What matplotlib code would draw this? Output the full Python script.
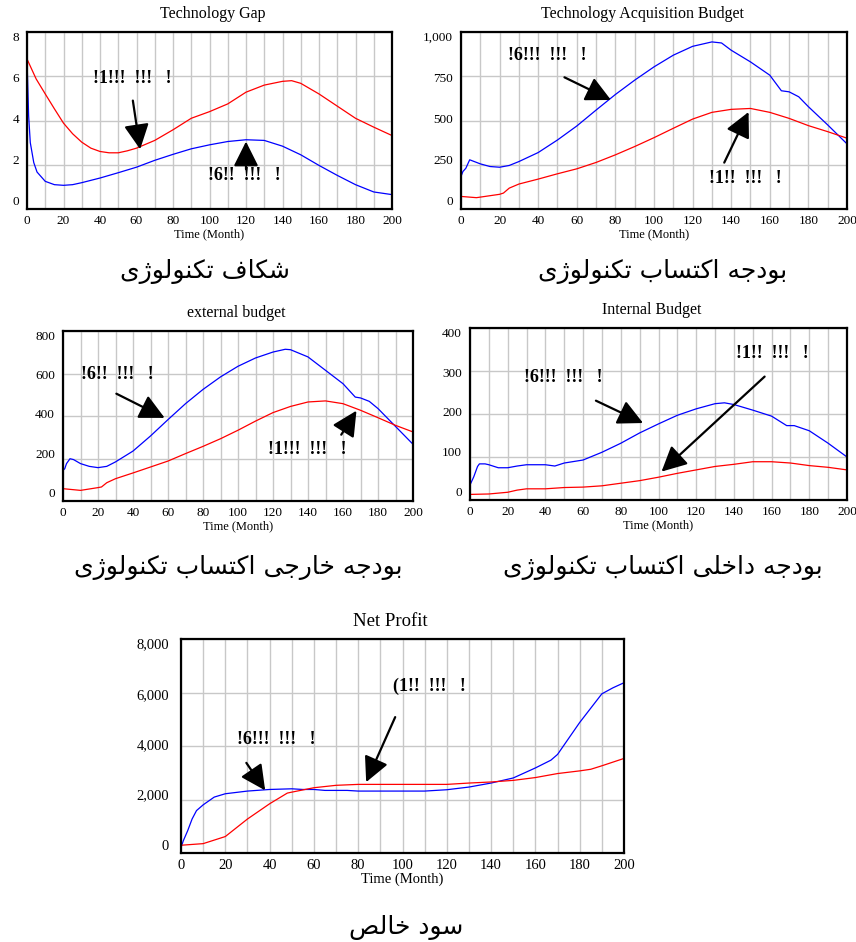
import matplotlib
matplotlib.use('Agg')
import matplotlib.pyplot as plt
from matplotlib.ticker import MultipleLocator
from matplotlib.transforms import ScaledTranslation

plt.rcParams['font.family'] = ['Liberation Serif', 'DejaVu Serif']

# ---- data (time in months) ----
gap_t_red = [0, 5, 10, 15, 20, 25, 30, 35, 40, 45, 50, 55, 60, 70, 80, 90, 100,
             110, 120, 130, 140, 145, 150, 160, 170, 180, 190, 200]
gap_red = [6.78, 5.88, 5.2, 4.53, 3.88, 3.4, 3.02, 2.75, 2.6, 2.54, 2.54, 2.63, 2.75,
           3.1, 3.58, 4.1, 4.4, 4.75, 5.28, 5.6, 5.77, 5.8, 5.68, 5.2, 4.65, 4.1, 3.7, 3.32]
gap_t_blue = [0, 0.9, 1.8, 3.7, 5.5, 10, 15, 20, 25, 30, 40, 50, 60, 70, 80, 90, 100,
              110, 120, 130, 140, 150, 160, 170, 180, 190, 200]
gap_blue = [6.78, 4.2, 3.0, 2.1, 1.67, 1.25, 1.1, 1.07, 1.1, 1.19, 1.4, 1.64, 1.89, 2.2,
            2.47, 2.72, 2.9, 3.05, 3.13, 3.1, 2.84, 2.45, 1.97, 1.52, 1.1, 0.77, 0.65]

tab_t_blue = [0, 1, 2.5, 4.5, 10, 15, 20, 25, 30, 40, 50, 60, 70, 80, 90, 100, 110, 120,
              130, 135, 140, 150, 160, 166, 170, 175, 180, 190, 200]
tab_blue = [184, 212, 230, 278, 255, 240, 236, 246, 268, 319, 390, 469, 559, 647, 728, 803,
            869, 919, 944, 938, 897, 831, 756, 668, 662, 634, 578, 475, 368]
tab_t_red = [0, 8, 20, 22, 25, 30, 40, 50, 60, 70, 80, 90, 100, 110, 120, 130, 140, 150,
             160, 170, 180, 190, 200]
tab_red = [71, 64, 83, 90, 118, 141, 169, 199, 227, 263, 306, 353, 403, 456, 508, 546, 563,
           568, 546, 512, 471, 437, 400]

ext_t_blue = [0, 1, 2, 4, 6, 10, 15, 20, 25, 30, 40, 50, 60, 70, 80, 90, 100, 110, 120,
              127, 130, 140, 150, 160, 167, 170, 175, 180, 190, 200]
ext_blue = [144, 152, 176, 199, 195, 176, 163, 157, 163, 184, 235, 306, 383, 458, 525, 584,
            634, 673, 701, 714, 712, 678, 615, 552, 489, 485, 469, 435, 351, 267]
ext_t_red = [0, 10, 20, 22, 25, 30, 40, 50, 60, 70, 80, 90, 100, 110, 120, 130, 140, 150,
             160, 170, 180, 190, 200]
ext_red = [58, 50, 63, 66, 86, 105, 132, 160, 188, 223, 257, 293, 333, 376, 416, 445, 466,
           471, 458, 427, 392, 356, 325]

int_t_blue = [0, 2, 4, 5, 8, 10, 15, 20, 25, 30, 40, 45, 50, 60, 70, 80, 90, 100, 110, 120,
              130, 135, 140, 150, 160, 168, 172, 180, 190, 200]
int_blue = [35, 54, 78, 84, 84, 82, 75, 75, 79, 82, 82, 79, 86, 93, 111, 132, 156, 177, 197,
            212, 224, 226, 222, 209, 195, 173, 173, 161, 132, 100]
int_t_red = [0, 10, 20, 25, 30, 40, 50, 60, 70, 80, 90, 100, 110, 120, 130, 140, 150, 160,
             170, 180, 190, 200]
int_red = [13, 14, 18, 23, 26, 26, 29, 30, 33, 39, 45, 53, 62, 70, 78, 83, 89, 89, 86, 80,
           76, 70]

np_t_blue = [0, 1, 3, 5, 7, 10, 15, 20, 30, 40, 50, 55, 60, 65, 75, 80, 100, 110, 115, 120,
             130, 140, 150, 160, 167, 170, 180, 190, 195, 200]
np_blue = [200, 450, 830, 1270, 1585, 1800, 2090, 2215, 2315, 2375, 2400, 2375, 2375, 2340,
           2340, 2315, 2315, 2315, 2340, 2365, 2465, 2615, 2805, 3180, 3470, 3685, 4880,
           5950, 6175, 6365]
np_t_red = [0, 10, 20, 30, 40, 48, 50, 60, 70, 80, 100, 120, 130, 140, 150, 160, 170, 180,
            185, 190, 200]
np_red = [290, 350, 615, 1270, 1840, 2240, 2275, 2440, 2530, 2565, 2565, 2565, 2615, 2655,
          2715, 2820, 2970, 3070, 3130, 3260, 3535]

titles = ['Technology Gap', 'Technology Acquisition Budget', 'external budget',
          'Internal Budget', 'Net Profit']
captions = ['شکاف تکنولوژی', 'بودجه اکتساب تکنولوژی', 'بودجه خارجی اکتساب تکنولوژی',
            'بودجه داخلی اکتساب تکنولوژی', 'سود خالص']
ymax = [8, 1000, 800, 400, 8000]
ystep = [2, 250, 200, 100, 2000]

# annotation: (text, text_xy, arrow_tail, arrow_tip) in data units
notes = [
    [('!1!!!  !!!   !', (36, 5.9), (58, 4.9), (62, 2.7)),
     ('!6!!  !!!   !', (99, 1.5), (120, 1.8), (120, 3.05))],
    [('!6!!!  !!!   !', (24.5, 870), (53.6, 744), (77.7, 616)),
     ('!1!!  !!!   !', (128.3, 173), (136.4, 262), (149, 548))],
    [('!6!!  !!!   !', (10.5, 596), (30.5, 505), (58.1, 391)),
     ('!1!!!  !!!   !', (117, 243), (159, 312), (167.7, 425))],
    [('!6!!!  !!!   !', (28.8, 285), (66.8, 231), (91.8, 179)),
     ('!1!!  !!!   !', (141.3, 340), (156.3, 287), (101.6, 66))],
    [('!6!!!  !!!   !', (25.5, 4226), (29.5, 3370), (38, 2340)),
     ('(1!!  !!!   !', (95.9, 6240), (96.7, 5080), (83.6, 2650))],
]

series = [
    (gap_t_blue, gap_blue, gap_t_red, gap_red),
    (tab_t_blue, tab_blue, tab_t_red, tab_red),
    (ext_t_blue, ext_blue, ext_t_red, ext_red),
    (int_t_blue, int_blue, int_t_red, int_red),
    (np_t_blue, np_blue, np_t_red, np_red),
]

# ---- simple persian shaping (matplotlib has no complex text layout) ----
FORMS = {  # isolated, final, initial, medial
    'ا': ('\ufe8d', '\ufe8e', None, None),
    'ب': ('\ufe8f', '\ufe90', '\ufe91', '\ufe92'),
    'ت': ('\ufe95', '\ufe96', '\ufe97', '\ufe98'),
    'ج': ('\ufe9d', '\ufe9e', '\ufe9f', '\ufea0'),
    'خ': ('\ufea5', '\ufea6', '\ufea7', '\ufea8'),
    'د': ('\ufea9', '\ufeaa', None, None),
    'ر': ('\ufead', '\ufeae', None, None),
    'ژ': ('\ufb8a', '\ufb8b', None, None),
    'س': ('\ufeb1', '\ufeb2', '\ufeb3', '\ufeb4'),
    'ش': ('\ufeb5', '\ufeb6', '\ufeb7', '\ufeb8'),
    'ص': ('\ufeb9', '\ufeba', '\ufebb', '\ufebc'),
    'ف': ('\ufed1', '\ufed2', '\ufed3', '\ufed4'),
    'ک': ('\ufb8e', '\ufb8f', '\ufb90', '\ufb91'),
    'ل': ('\ufedd', '\ufede', '\ufedf', '\ufee0'),
    'ن': ('\ufee5', '\ufee6', '\ufee7', '\ufee8'),
    'ه': ('\ufee9', '\ufeea', '\ufeeb', '\ufeec'),
    'و': ('\ufeed', '\ufeee', None, None),
    'ی': ('\ufbfc', '\ufbfd', '\ufbfe', '\ufbff'),
}


def shape_fa(s):
    out = []
    for i, ch in enumerate(s):
        if ch not in FORMS:
            out.append(ch)
            continue
        prev = s[i - 1] if i > 0 else ''
        nxt = s[i + 1] if i + 1 < len(s) else ''
        iso, fin, ini, med = FORMS[ch]
        jp = prev in FORMS and FORMS[prev][2] is not None
        jn = ini is not None and nxt in FORMS
        if jp and jn:
            out.append(med)
        elif jp:
            out.append(fin)
        elif jn:
            out.append(ini)
        else:
            out.append(iso)
    return ''.join(reversed(out))


W, H = 856, 942
fig = plt.figure(figsize=(W / 100, H / 100), dpi=100)

# axes frame in pixels: left, top, right, bottom ; title x, caption x/y
frames = [(27, 32, 392, 209), (461, 32, 847, 209), (63, 331, 413, 501),
          (470, 328, 847, 500), (181, 639, 624, 853)]
title_x = [213, 642, 236, 652, 390]
cap_xy = [(205, 272), (663, 272), (238, 568), (663, 568), (406, 928)]

for i in range(5):
    l, t, r, b = frames[i]
    ax = fig.add_axes([l / W, 1 - b / H, (r - l) / W, (b - t) / H])
    big = i == 4
    tb, yb, tr, yr = series[i]
    ax.plot(tb, yb, color='#0000ff', lw=0.9)
    ax.plot(tr, yr, color='#ff0000', lw=0.9)
    ax.set_xlim(0, 200)
    ax.set_ylim(0, ymax[i])
    ax.xaxis.set_major_locator(MultipleLocator(20))
    ax.xaxis.set_minor_locator(MultipleLocator(10))
    ax.yaxis.set_major_locator(MultipleLocator(ystep[i]))
    ax.set_yticklabels([])
    ax.grid(True, which='both', axis='x', color='#c8c8c8', lw=1)
    ax.grid(True, which='major', axis='y', color='#c8c8c8', lw=1)
    ax.set_axisbelow(True)
    fs = 10.5 if big else 9.5
    ax.tick_params(which='both', length=0, labelsize=fs, pad=4)
    for s in ax.spines.values():
        s.set_linewidth(1.6)

    # y labels spread like the original (top one pushed down, bottom one up)
    gap = 12 if big else 8
    v = 0
    while v <= ymax[i]:
        frac = v / ymax[i]
        dy = 7 * (1 - frac) - 6 * frac
        off = ScaledTranslation(-gap / 100, dy / 100, fig.dpi_scale_trans)
        ax.text(0, v, f'{v:,.0f}', transform=ax.get_yaxis_transform() + off,
                ha='right', va='center', fontsize=fs)
        v += ystep[i]

    ax.set_xlabel('Time (Month)', fontsize=10.5 if big else 9, labelpad=1)
    fig.text(title_x[i] / W, 1 - (t - 18) / H, titles[i], ha='center', va='center',
             fontsize=13.5 if big else 11.5)
    for txt, txy, tail, tip in notes[i]:
        ax.text(txy[0], txy[1], txt, fontsize=13, fontweight='bold', ha='left', va='center')
        ax.annotate('', xy=tip, xytext=tail,
                    arrowprops=dict(arrowstyle='-|>,head_length=0.9,head_width=0.45',
                                    lw=1.6, color='k', mutation_scale=17,
                                    shrinkA=0, shrinkB=0))
    cx, cy = cap_xy[i]
    fig.text(cx / W, 1 - cy / H, shape_fa(captions[i]), ha='center', va='center',
             fontsize=18, family=['DejaVu Sans'])

fig.savefig('out.png', dpi=100)
